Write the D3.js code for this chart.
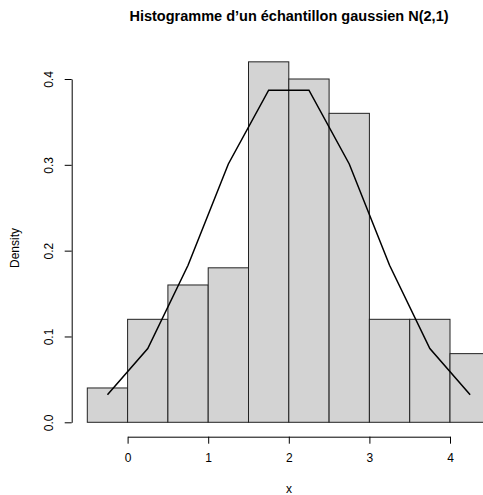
<!DOCTYPE html>
<html>
<head>
<meta charset="utf-8">
<script src="https://cdn.jsdelivr.net/npm/d3@7"></script>
<style>
  body { margin: 0; background: #fff; }
  svg { display: block; font-family: "Liberation Sans", Arial, sans-serif; }
</style>
</head>
<body>
<svg id="chart" width="483" height="495"></svg>
<script>
// bornes des classes de l'histogramme
const breaks = [-0.5, 0, 0.5, 1, 1.5, 2, 2.5, 3, 3.5, 4, 4.5]
// densites des classes
const densities = [0.04, 0.12, 0.16, 0.18, 0.42, 0.40, 0.36, 0.12, 0.12, 0.08]
// milieux des classes et densite N(2,1)
const mids = [-0.25, 0.25, 0.75, 1.25, 1.75, 2.25, 2.75, 3.25, 3.75, 4.25]
const curve = [0.032, 0.086, 0.183, 0.301, 0.387, 0.387, 0.301, 0.183, 0.086, 0.032]
const xTicks = [0, 1, 2, 3, 4]
const yTicks = [0, 0.1, 0.2, 0.3, 0.4]

const svg = d3.select('#chart')

const x = d3.scaleLinear().domain([0, 4]).range([127.6, 450])
const y = d3.scaleLinear().domain([0, 0.4]).range([422.3, 79])

const bins = densities.map((d, i) => ({x0: breaks[i], x1: breaks[i + 1], d}))

//barres
svg.append('g')
  .selectAll('rect')
  .data(bins)
  .join('rect')
  .attr('x', d => x(d.x0))
  .attr('y', d => y(d.d))
  .attr('width', d => x(d.x1) - x(d.x0))
  .attr('height', d => y(0) - y(d.d))
  .attr('fill', '#d3d3d3')
  .attr('stroke', '#222')
  .attr('stroke-width', 1)

//courbe
const line = d3.line().x(d => x(d[0])).y(d => y(d[1]))
svg.append('path')
  .datum(mids.map((m, i) => [m, curve[i]]))
  .attr('d', line)
  .attr('fill', 'none')
  .attr('stroke', '#000')
  .attr('stroke-width', 1.5)

//axe x
const gx = svg.append('g')
  .attr('transform', 'translate(0, 436.7)')
  .call(d3.axisBottom(x).tickValues(xTicks).tickFormat(d3.format('d')).tickSize(7).tickSizeOuter(0))
gx.selectAll('text').attr('font-size', 12).attr('dy', '0.71em').attr('y', 17)
gx.attr('font-family', null)

//axe y
const gy = svg.append('g')
  .attr('transform', 'translate(71.7, 0)')
  .call(d3.axisLeft(y).tickValues(yTicks).tickFormat(d3.format('.1f')).tickSize(7).tickSizeOuter(0))
gy.attr('font-family', null)
gy.selectAll('.tick text')
  .attr('font-size', 12)
  .attr('x', null).attr('dy', null)
  .attr('text-anchor', 'middle')
  .attr('transform', 'translate(-19, 0) rotate(-90)')

//titres
svg.append('text')
  .text('Histogramme d\u2019un échantillon gaussien N(2,1)')
  .attr('x', 289).attr('y', 21)
  .attr('text-anchor', 'middle')
  .attr('font-size', 14.5)
  .attr('font-weight', 'bold')

svg.append('text')
  .text('x')
  .attr('x', 289).attr('y', 493)
  .attr('text-anchor', 'middle')
  .attr('font-size', 12)

svg.append('text')
  .text('Density')
  .attr('transform', 'translate(19, 248) rotate(-90)')
  .attr('text-anchor', 'middle')
  .attr('font-size', 12)
</script>
</body>
</html>
